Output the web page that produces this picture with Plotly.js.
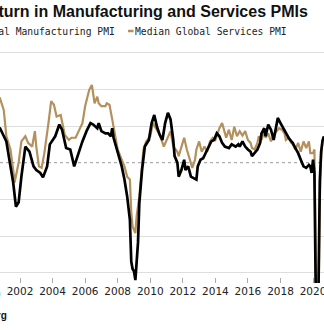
<!DOCTYPE html>
<html>
<head>
<meta charset="utf-8">
<script src="https://cdn.plot.ly/plotly-3.0.1.min.js"></script>
<style>
html,body{margin:0;padding:0;background:#fff;overflow:hidden;}
#chart{width:324px;height:330px;}
</style>
</head>
<body>
<div id="chart"></div>
<script>
// Median Global Manufacturing PMI
const mfgDates = ["2000-10","2001-03","2001-06","2001-08","2001-10","2001-12","2002-02","2002-05","2002-08","2002-11",
"2003-01","2003-04","2003-06","2003-09","2003-11","2004-03","2004-06","2004-08","2004-11","2005-02","2005-05","2005-08","2005-11",
"2006-02","2006-05","2006-07","2006-10","2006-11","2007-01","2007-04","2007-06","2007-08","2007-09","2007-10","2007-12",
"2008-02","2008-04","2008-06","2008-08","2008-10","2008-11","2008-12","2009-01","2009-02","2009-04","2009-05","2009-07","2009-09","2009-12",
"2010-02","2010-04","2010-06","2010-08","2010-10","2010-12","2011-02","2011-04","2011-06","2011-07","2011-09","2011-10","2011-12",
"2012-02","2012-03","2012-05","2012-07","2012-09","2012-11","2012-12","2013-02","2013-04","2013-06","2013-08","2013-10","2013-12",
"2014-02","2014-04","2014-06","2014-08","2014-11","2015-01","2015-04","2015-06","2015-07","2015-09","2015-11",
"2016-01","2016-03","2016-04","2016-06","2016-08","2016-10","2016-11","2017-01","2017-02","2017-04","2017-06","2017-08","2017-10","2017-11",
"2018-01","2018-03","2018-05","2018-07","2018-09","2018-10","2018-12","2019-02","2019-04","2019-06","2019-08","2019-10","2019-11","2019-12",
"2020-01","2020-02","2020-03","2020-04","2020-05","2020-06","2020-07","2020-08","2020-09"];
const mfgPMI = [54.8,52.9,49.5,47.3,44.0,44.6,48.1,52.2,51.5,49.5,
49.0,48.6,48.0,49.5,52.5,53.6,55.2,54.5,52.0,51.8,49.5,51.3,52.9,
54.3,55.4,55.2,54.7,55.4,54.3,54.0,54.0,53.6,54.7,53.4,52.2,
50.9,49.5,47.7,45.4,42.2,36.5,35.5,35.2,34.0,39.1,44.5,49.0,52.2,53.1,
55.4,56.5,54.9,53.8,53.1,55.4,56.8,55.9,53.1,50.9,50.0,48.1,49.0,
50.4,49.0,49.5,48.1,47.9,47.7,49.5,50.4,50.6,51.3,52.0,52.9,53.1,
54.0,53.6,52.7,52.2,52.0,52.5,52.2,52.5,52.2,52.9,52.2,
51.8,51.5,50.9,51.3,51.8,52.7,54.0,54.7,53.6,55.2,54.5,53.1,54.9,56.1,
55.4,54.7,54.0,53.4,52.9,52.7,52.0,51.3,50.4,49.5,49.3,49.7,49.5,48.6,
50.4,48.6,33.0,29.0,32.0,47.5,51.5,53.0,53.6];

// Median Global Services PMI
const svcDates = ["2000-10","2001-01","2001-03","2001-06","2001-08","2001-09","2001-12","2002-02","2002-05","2002-07","2002-10","2002-12",
"2003-01","2003-03","2003-05","2003-07","2003-10","2003-12","2004-02","2004-04","2004-07","2004-08","2004-10","2005-01","2005-03","2005-06","2005-08","2005-11",
"2006-01","2006-02","2006-04","2006-06","2006-08","2006-10","2006-11","2007-01","2007-04","2007-05","2007-07","2007-09","2007-11",
"2008-01","2008-04","2008-06","2008-08","2008-10","2008-11","2008-12","2009-02","2009-03","2009-05","2009-07","2009-08","2009-10",
"2010-01","2010-03","2010-06","2010-08","2010-11","2011-01","2011-04","2011-06","2011-09","2011-10","2011-12",
"2012-02","2012-04","2012-06","2012-08","2012-10","2012-11","2013-01","2013-03","2013-05","2013-07","2013-09","2013-11",
"2014-01","2014-04","2014-06","2014-08","2014-09","2014-11","2015-01","2015-03","2015-05","2015-07","2015-09","2015-11",
"2016-01","2016-03","2016-04","2016-06","2016-08","2016-09","2016-11","2017-01","2017-02","2017-04","2017-06","2017-08","2017-10","2017-12",
"2018-02","2018-04","2018-05","2018-07","2018-09","2018-10","2018-12","2019-02","2019-04","2019-06","2019-08","2019-10","2019-11",
"2020-01","2020-02","2020-03","2020-04","2020-05","2020-06","2020-07","2020-08","2020-09"];
const svcPMI = [58.9,57.2,53.6,51.8,49.0,47.3,50.0,52.9,53.6,52.7,52.2,54.3,
52.2,49.5,49.3,51.3,55.4,58.4,57.9,56.3,56.5,55.4,53.8,53.1,53.4,53.4,54.3,55.4,
57.7,58.4,59.9,60.6,58.1,59.0,58.1,57.7,57.7,58.1,57.9,55.9,53.6,
51.8,50.4,49.5,48.1,47.7,43.2,41.3,40.4,42.7,45.4,49.0,51.8,52.9,
53.6,55.4,54.5,53.8,52.2,53.1,54.3,52.2,51.5,50.9,52.2,
53.4,51.8,50.4,49.3,50.4,51.8,52.9,51.5,52.2,51.5,52.9,53.4,
53.1,54.7,55.4,54.0,53.4,54.5,53.1,54.9,53.6,54.3,53.7,54.3,
53.1,52.7,52.0,51.8,52.7,53.6,53.1,54.3,53.4,54.0,52.9,53.8,54.3,54.7,
54.5,54.0,53.1,53.4,52.7,52.5,51.8,52.7,51.5,52.9,52.0,52.9,51.3,
51.3,51.8,38.0,20.0,30.0,45.0,51.0,53.0,53.5];

const xTickYears = ["2002","2004","2006","2008","2010","2012","2014","2016","2018","2020"];
const yGridVals = [35,40,45,55,60,65];

const W = 324, H = 330, T = 49, B = 47;
const plotH = H - T - B;
const py = px => (H - B - px) / plotH;   // pixel row -> paper y
const pxX = px => px / W;               // pixel col -> paper x

const tan = "#b3905c";

const traces = [
  {x: svcDates, y: svcPMI, type: "scatter", mode: "lines", name: "Median Global Services PMI",
   line: {color: tan, width: 2.2}, hoverinfo: "skip"},
  {x: mfgDates, y: mfgPMI, type: "scatter", mode: "lines", name: "Median Global Manufacturing PMI",
   line: {color: "#000", width: 2.7}, hoverinfo: "skip"}
];

const layout = {
  width: W, height: H,
  margin: {l: 0, r: 0, t: T, b: B, pad: 0},
  paper_bgcolor: "#fff", plot_bgcolor: "#fff",
  showlegend: false,
  xaxis: {
    type: "date",
    range: ["2000-10-09", "2020-09-03"],
    tickvals: xTickYears.map(y => y + "-01-01"),
    ticktext: xTickYears,
    ticks: "inside", ticklen: 5, tickcolor: "#aaa", tickwidth: 1,
    ticklabeloverflow: "allow",
    showgrid: false, zeroline: false, showline: false,
    tickfont: {family: "DejaVu Sans", size: 10.5, color: "#222"}
  },
  yaxis: {
    range: [33.6, 65.5],
    tickvals: yGridVals,
    showticklabels: false, ticks: "",
    showgrid: true, gridcolor: "#dedede", gridwidth: 1,
    zeroline: false, showline: false
  },
  shapes: [
    {type: "line", xref: "paper", x0: 0, x1: 1, yref: "y", y0: 50, y1: 50,
     line: {color: "#9a9a9a", width: 1, dash: "3px,3px"}, layer: "below"},
    {type: "line", xref: "paper", x0: pxX(128), x1: pxX(133.5), yref: "paper", y0: py(31), y1: py(31),
     line: {color: tan, width: 2.5}}
  ],
  annotations: [
    {text: "<b>Return in Manufacturing and Services PMIs</b>", xref: "paper", yref: "paper",
     x: pxX(309), y: py(12), xanchor: "right", yanchor: "middle", showarrow: false,
     borderpad: 0, font: {family: "Liberation Sans", size: 16, color: "#111"}},
    {text: "Median Global Manufacturing PMI", xref: "paper", yref: "paper",
     x: pxX(116), y: py(31), xanchor: "right", yanchor: "middle", showarrow: false,
     borderpad: 0, font: {family: "DejaVu Sans Mono", size: 9.7, color: "#222"}},
    {text: "Median Global Services PMI", xref: "paper", yref: "paper",
     x: pxX(134), y: py(31), xanchor: "left", yanchor: "middle", showarrow: false,
     borderpad: 0, font: {family: "DejaVu Sans Mono", size: 9.7, color: "#222"}},
    {text: "2000", xref: "paper", yref: "paper",
     x: pxX(-12.5), y: py(294), xanchor: "center", yanchor: "middle", showarrow: false,
     borderpad: 0, font: {family: "DejaVu Sans", size: 10.5, color: "#222"}},
    {text: "<b>Source: Bloomberg</b>", xref: "paper", yref: "paper",
     x: pxX(8), y: py(315), xanchor: "right", yanchor: "middle", showarrow: false,
     borderpad: 0, font: {family: "Liberation Sans", size: 10, color: "#111"}}
  ]
};

Plotly.newPlot("chart", traces, layout, {staticPlot: true, displayModeBar: false});
</script>
</body>
</html>
